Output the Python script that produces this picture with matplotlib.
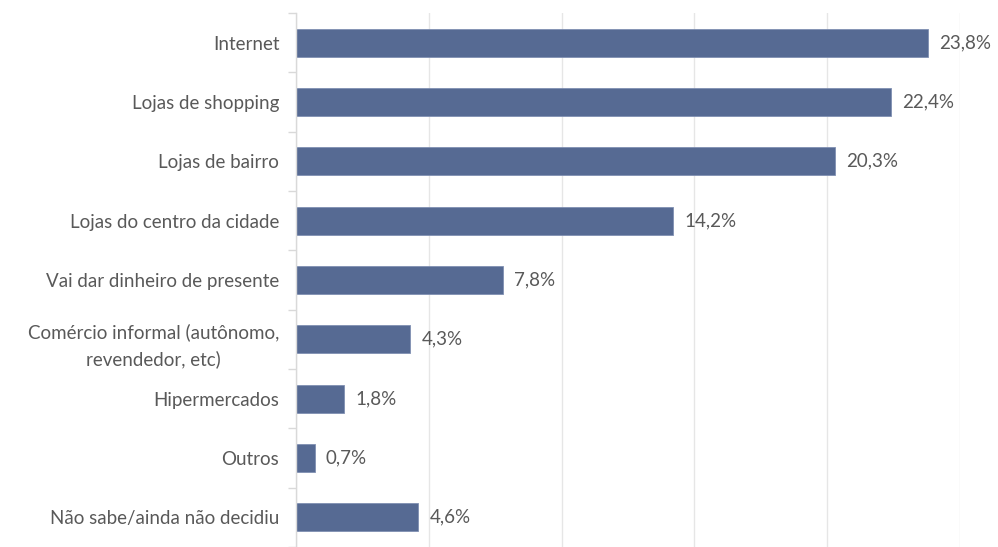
import matplotlib
matplotlib.use("Agg")
import matplotlib.pyplot as plt
import numpy as np

plt.rcParams['font.family'] = ['Lato', 'DejaVu Sans']

categorias = ["Internet", "Lojas de shopping", "Lojas de bairro",
              "Lojas do centro da cidade", "Vai dar dinheiro de presente",
              "Comércio informal (autônomo,\nrevendedor, etc)",
              "Hipermercados", "Outros", "Não sabe/ainda não decidiu"]
valores = [23.8, 22.4, 20.3, 14.2, 7.8, 4.3, 1.8, 0.7, 4.6]
rotulos = ["23,8%", "22,4%", "20,3%", "14,2%", "7,8%", "4,3%", "1,8%", "0,7%", "4,6%"]

cor_texto = "#595959"
cor_barra = "#566a93"

fig = plt.figure(figsize=(9.98, 5.47), dpi=100)
ax = fig.add_axes([296 / 998, 0, (960 - 296) / 998, (547 - 13) / 547])

y = np.arange(len(categorias))
ax.barh(y, valores, height=0.47, color=cor_barra, edgecolor="#7f8fb2",
        linewidth=0.6, zorder=2)

for yi, v, r in zip(y, valores, rotulos):
    ax.text(v + 0.42, yi, r, va="center", ha="left", fontsize=13.5, color=cor_texto)

ax.set_xlim(0, 25)
ax.set_ylim(8.4, -0.5)
ax.set_xticks(np.arange(0, 26, 5))
ax.xaxis.grid(True, color="#e6e6e6", linewidth=1.0, zorder=0)
ax.set_axisbelow(True)
ax.tick_params(axis="x", length=0, labelbottom=False)

ax.set_yticks(y)
ax.set_yticklabels(categorias, fontsize=13.5, color=cor_texto)
for lbl in ax.get_yticklabels():
    lbl.set_multialignment("center")
    lbl.set_linespacing(1.6)
ax.tick_params(axis="y", which="major", length=0, pad=12)
ax.set_yticks(np.arange(-0.5, len(categorias), 1), minor=True)
ax.tick_params(axis="y", which="minor", length=6, color="#d9d9d9", width=1)

for s in ["top", "right", "bottom"]:
    ax.spines[s].set_visible(False)
ax.spines["left"].set_color("#d9d9d9")
ax.spines["left"].set_linewidth(1)

fig.savefig("out.png", dpi=100)
